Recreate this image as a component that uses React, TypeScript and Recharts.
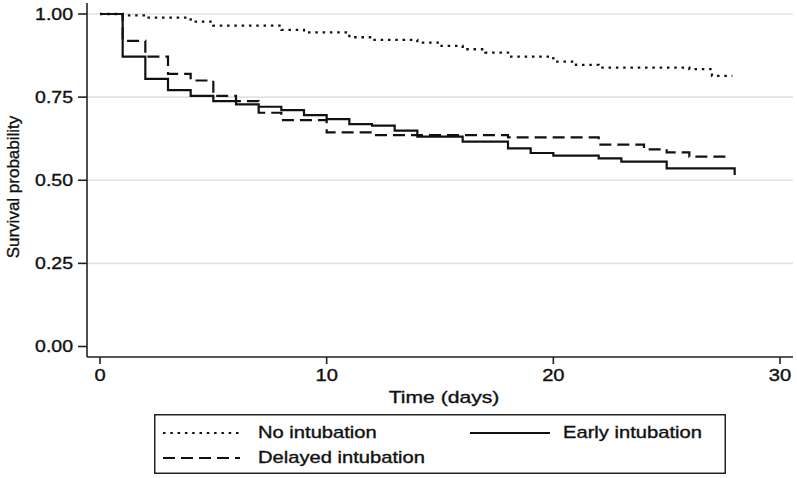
import { LineChart, Line, XAxis, YAxis, ReferenceLine, Legend, Label } from 'recharts';

// Kaplan-Meier steps (time in days, survival probability)
const noIntubationDays = [0, 1, 2, 4, 5, 8, 9, 11, 12, 14, 15, 16, 17, 18, 20, 21, 22, 26, 27, 27.9];
const noIntubationSurv = [1, 0.996, 0.989, 0.977, 0.965, 0.952, 0.945, 0.93, 0.922, 0.914, 0.904, 0.894, 0.884, 0.872, 0.857, 0.847, 0.839, 0.834, 0.814, 0.814];

const earlyDays = [0, 1, 2, 3, 4, 5, 6, 7, 8, 9, 10, 11, 12, 13, 14, 16, 18, 19, 20, 22, 23, 25, 28];
const earlySurv = [1, 0.872, 0.805, 0.771, 0.754, 0.738, 0.728, 0.721, 0.711, 0.696, 0.684, 0.669, 0.664, 0.649, 0.631, 0.616, 0.596, 0.582, 0.574, 0.566, 0.556, 0.536, 0.516];

const delayedDays = [0, 1, 2, 3, 4, 5, 6, 7, 8, 10, 12, 18, 22, 24, 25, 26, 27.8];
const delayedSurv = [1, 0.919, 0.872, 0.82, 0.8, 0.754, 0.738, 0.703, 0.681, 0.644, 0.636, 0.629, 0.607, 0.593, 0.584, 0.571, 0.571];

const xTicks = [0, 10, 20, 30];
const yTicks = [0, 0.25, 0.5, 0.75, 1];
const gridValues = [0.25, 0.5, 0.75, 1];

const toSeries = (days: number[], surv: number[]) => days.map((t, i) => ({ t, s: surv[i] }));

const noIntubation = toSeries(noIntubationDays, noIntubationSurv);
const early = toSeries(earlyDays, earlySurv);
const delayed = toSeries(delayedDays, delayedSurv);

const FONT = '"Liberation Sans", Arial, sans-serif';
const STRETCH = 1.26; // the original text is set wide
const INK = '#111';
const DOTTED = '2.5 4.8';
const DASHED = '12 6';

// a hairline stroke gives the slightly heavier look of the original labels
const textStyle = { fontSize: 16, fontFamily: FONT, fill: INK, stroke: INK, strokeWidth: 0.35 };

const wideText = (x: number, y: number, text: string, anchor: 'start' | 'middle' | 'end', dy = '0', stretch = STRETCH) => (
  <text transform={`translate(${x},${y}) scale(${stretch},1)`} textAnchor={anchor} dy={dy} {...textStyle}>
    {text}
  </text>
);

const XTick = (props: any) => wideText(props.x, props.y, String(props.payload.value), 'middle', '0.71em');
const YTick = (props: any) => wideText(props.x, props.y, Number(props.payload.value).toFixed(2), 'end', '0.36em', 1.22);

// legend box sits at (154, 414) in page coordinates
const renderLegend = () => (
  <svg width={572} height={60}>
    <rect x={0.75} y={0.75} width={570.5} height={58.5} fill="white" stroke="#222" strokeWidth={1.5} />
    <line x1={9} y1={19} x2={86} y2={19} stroke={INK} strokeWidth={2} strokeDasharray={DOTTED} />
    <line x1={9} y1={44} x2={86} y2={44} stroke={INK} strokeWidth={2.2} strokeDasharray={DASHED} />
    <line x1={316} y1={19} x2={396} y2={19} stroke={INK} strokeWidth={2.2} />
    {wideText(104, 24, 'No intubation', 'start')}
    {wideText(104, 49, 'Delayed intubation', 'start')}
    {wideText(409, 24, 'Early intubation', 'start')}
  </svg>
);

export default function App() {
  return (
    <div style={{ position: 'absolute', left: 0, top: 0, background: 'white' }}>
      <LineChart width={797} height={478} margin={{ top: 3, right: 4, bottom: 71, left: 0 }}>
        {gridValues.map((v) => (
          <ReferenceLine key={v} y={v} stroke="#e2e2e2" strokeWidth={1.6} />
        ))}
        <XAxis
          type="number"
          dataKey="t"
          domain={[-0.5735, 30.5735]}
          allowDataOverflow
          ticks={xTicks}
          height={50}
          tickSize={7}
          tickMargin={6}
          stroke="#222"
          strokeWidth={1.6}
          tick={XTick}
        >
          <Label content={() => wideText(444, 403, 'Time (days)', 'middle', '0', 1.32)} />
        </XAxis>
        <YAxis
          type="number"
          domain={[-0.03158, 1.03308]}
          allowDataOverflow
          ticks={yTicks}
          width={87}
          tickSize={9}
          tickMargin={5}
          stroke="#222"
          strokeWidth={1.6}
          tick={YTick}
        >
          <Label
            content={() => (
              <text x={18.5} y={187} transform="rotate(-90 18.5 187)" textAnchor="middle" {...textStyle} fontSize={17}>
                Survival probability
              </text>
            )}
          />
        </YAxis>
        <Legend
          layout="horizontal"
          verticalAlign="middle"
          align="center"
          content={renderLegend}
          wrapperStyle={{ left: 154, top: 414, width: 572, height: 60 }}
        />
        <Line
          data={noIntubation}
          dataKey="s"
          name="No intubation"
          type="stepAfter"
          stroke={INK}
          strokeWidth={2.3}
          strokeDasharray={DOTTED}
          dot={false}
          isAnimationActive={false}
        />
        <Line
          data={delayed}
          dataKey="s"
          name="Delayed intubation"
          type="stepAfter"
          stroke={INK}
          strokeWidth={2.2}
          strokeDasharray={DASHED}
          dot={false}
          isAnimationActive={false}
        />
        <Line
          data={early}
          dataKey="s"
          name="Early intubation"
          type="stepAfter"
          stroke={INK}
          strokeWidth={2.2}
          dot={false}
          isAnimationActive={false}
        />
      </LineChart>
    </div>
  );
}
